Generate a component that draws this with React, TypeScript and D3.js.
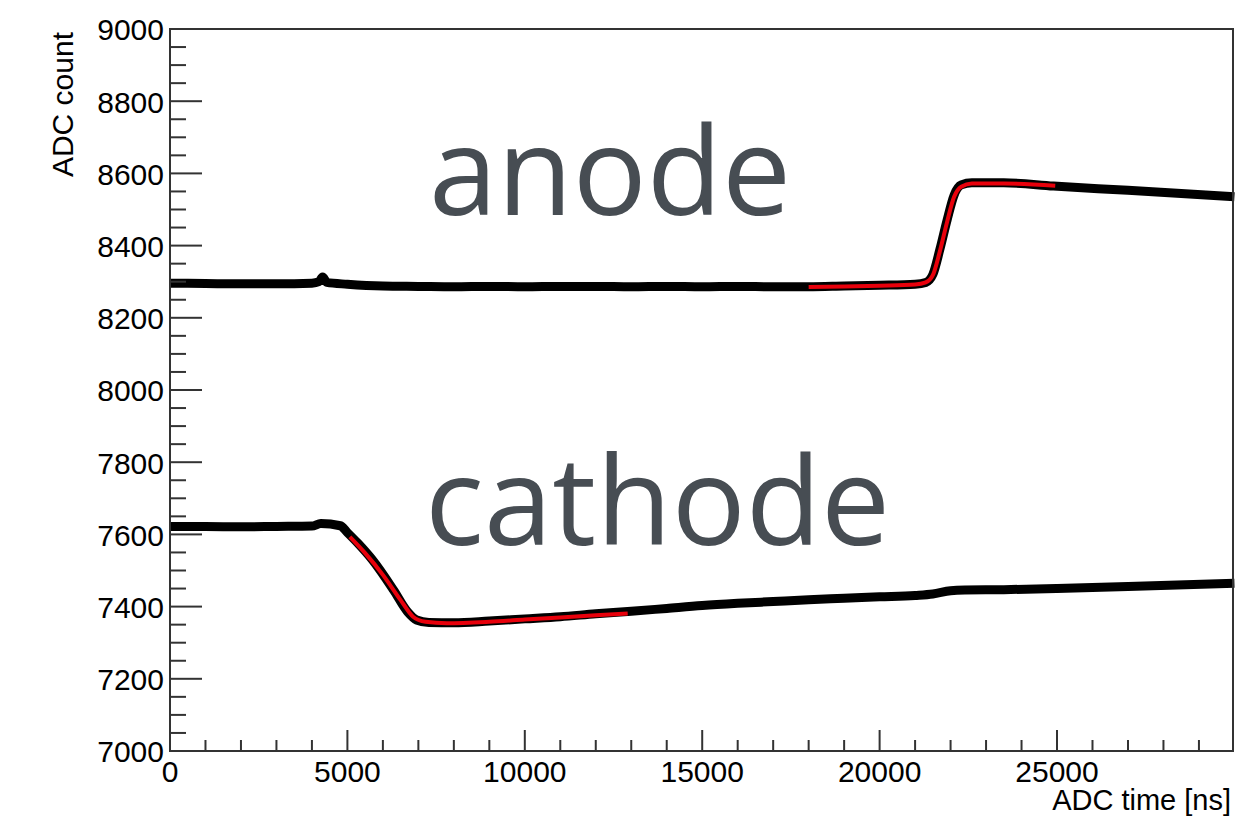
import React from "react";
import * as d3 from "d3";

// ---- data ----
const anodeT = [0, 1000, 2000, 3000, 4000, 4200, 4300, 4420, 5000, 6000, 7000, 8000, 9000, 10000, 11000, 12000, 13000, 14000, 15000, 16000, 17000, 18000, 19000, 20000, 21000, 21300, 21500, 21700, 21900, 22100, 22300, 22600, 23500, 24900, 27000, 30000];
const anodeV = [8296, 8295, 8294, 8294, 8296, 8300, 8313, 8298, 8293, 8288, 8287, 8286, 8287, 8286, 8287, 8287, 8286, 8287, 8286, 8287, 8286, 8286, 8288, 8290, 8293, 8298, 8320, 8390, 8470, 8540, 8568, 8574, 8574, 8565, 8553, 8535];

const anodeFitT = [18000, 19000, 20000, 21000, 21300, 21500, 21700, 21900, 22100, 22300, 22600, 23500, 24950];
const anodeFitV = [8285, 8287, 8289, 8292, 8298, 8318, 8385, 8465, 8535, 8563, 8572, 8572, 8566];

const cathodeT = [0, 1000, 2000, 3000, 4000, 4250, 4800, 5000, 5300, 5700, 6300, 6700, 6950, 7300, 8000, 9000, 10000, 11000, 12000, 13000, 14000, 15000, 16000, 17000, 18000, 19000, 20000, 21000, 21500, 22000, 22400, 23500, 25000, 27000, 30000];
const cathodeV = [7622, 7622, 7621, 7622, 7623, 7630, 7624, 7605, 7575, 7530, 7446, 7385, 7363, 7356, 7355, 7360, 7366, 7372, 7380, 7387, 7395, 7403, 7409, 7414, 7419, 7423, 7427, 7431, 7435, 7444, 7446, 7447, 7450, 7456, 7465];

const cathodeFitT = [5070, 5500, 6000, 6500, 6850, 7200, 7800, 9000, 10000, 11000, 12000, 12900];
const cathodeFitV = [7593, 7548, 7488, 7418, 7372, 7358, 7354, 7358, 7364, 7370, 7376, 7381];

const xMajorTicks = [0, 5000, 10000, 15000, 20000, 25000];
const yMajorTicks = [7000, 7200, 7400, 7600, 7800, 8000, 8200, 8400, 8600, 8800, 9000];

const labels = [
  { text: "anode", t: 7300, v: 8484 },
  { text: "cathode", t: 7190, v: 7570 },
];

export default function App() {
  const W = 1235, H = 816;
  const L = 170, R = 1233, T = 29, B = 751;
  const x = d3.scaleLinear().domain([0, 29960]).range([L, R]);
  const y = d3.scaleLinear().domain([7000, 9000]).range([B, T]);

  const line = d3
    .line<[number, number]>()
    .x((d) => x(d[0]))
    .y((d) => y(d[1]))
    .curve(d3.curveMonotoneX);

  const zip = (a: number[], b: number[]) => a.map((t, i) => [t, b[i]] as [number, number]);

  const xMinor = d3.range(0, 30000, 1000).filter((t) => t % 5000 !== 0 && x(t) < R - 1);
  const yMinor = d3.range(7000, 9001, 50).filter((v) => v % 200 !== 0);

  const tickFont = "'Liberation Sans', Arial, Helvetica, sans-serif";

  return (
    <svg width={W} height={H} style={{ position: "absolute", left: 0, top: 0, background: "#fff" }}>
      <rect x={0} y={0} width={W} height={H} fill="#fff" />
      {/* data */}
      <path d={line(zip(anodeT, anodeV)) || ""} fill="none" stroke="#000" strokeWidth={9} strokeLinejoin="round" />
      <path d={line(zip(cathodeT, cathodeV)) || ""} fill="none" stroke="#000" strokeWidth={9} strokeLinejoin="round" />
      <path d={line(zip(anodeFitT, anodeFitV)) || ""} fill="none" stroke="#e8000b" strokeWidth={4} strokeLinejoin="round" />
      <path d={line(zip(cathodeFitT, cathodeFitV)) || ""} fill="none" stroke="#e8000b" strokeWidth={4} strokeLinejoin="round" />

      {/* frame */}
      <rect x={L} y={T} width={R - L} height={B - T} fill="none" stroke="#333" strokeWidth={2} />

      {/* y ticks */}
      {yMajorTicks.map((v) => (
        <g key={"ym" + v}>
          <line x1={L} x2={L + 32} y1={y(v)} y2={y(v)} stroke="#333" strokeWidth={2} />
          <text x={164} y={y(v)} dy="0.38em" textAnchor="end" fontFamily={tickFont} fontSize={30} fill="#000">
            {v}
          </text>
        </g>
      ))}
      {yMinor.map((v) => (
        <line key={"yn" + v} x1={L} x2={L + 16} y1={y(v)} y2={y(v)} stroke="#333" strokeWidth={2} />
      ))}

      {/* x ticks */}
      {xMajorTicks.map((t) => (
        <g key={"xm" + t}>
          <line x1={x(t)} x2={x(t)} y1={B} y2={B - 21} stroke="#333" strokeWidth={2} />
          <text x={x(t) + (t === 0 ? 0 : 0)} y={782} textAnchor="middle" fontFamily={tickFont} fontSize={30} fill="#000">
            {t}
          </text>
        </g>
      ))}
      {xMinor.map((t) => (
        <line key={"xn" + t} x1={x(t)} x2={x(t)} y1={B} y2={B - 11} stroke="#333" strokeWidth={2} />
      ))}

      {/* axis titles */}
      <text x={1231} y={810} textAnchor="end" fontFamily={tickFont} fontSize={29} fill="#000">
        ADC time [ns]
      </text>
      <text transform="translate(73,32) rotate(-90)" textAnchor="end" fontFamily={tickFont} fontSize={30} fill="#000">
        ADC count
      </text>

      {/* annotations */}
      {labels.map((lb) => (
        <text key={lb.text} x={x(lb.t)} y={y(lb.v)} fontFamily="'Open Sans', sans-serif" fontSize={123} fill="#474d53">
          {lb.text}
        </text>
      ))}
    </svg>
  );
}
